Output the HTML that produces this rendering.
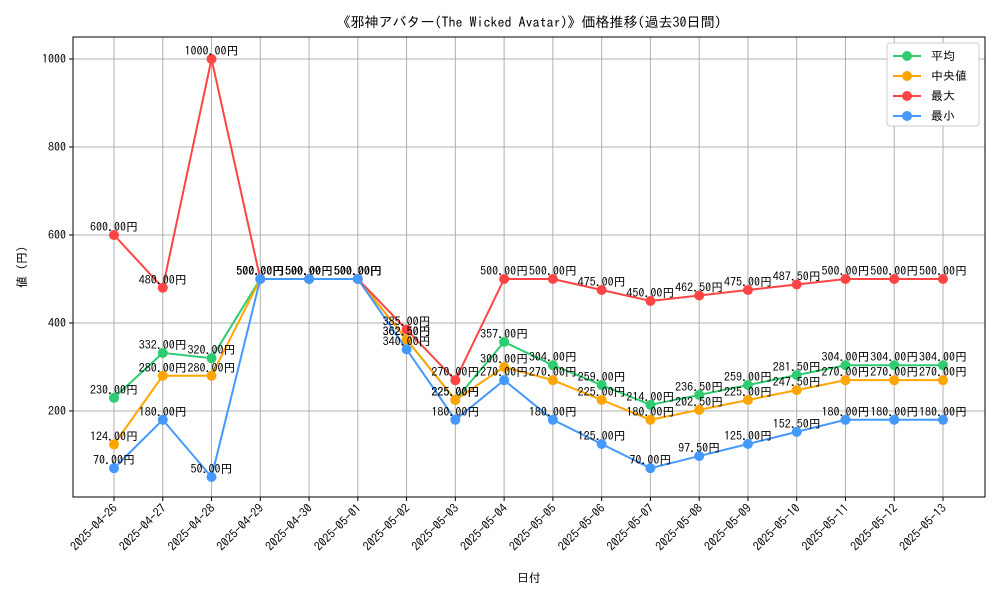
<!DOCTYPE html>
<html><head><meta charset="utf-8"><style>
body{margin:0;background:#fff}
svg text{font-family:"IPAGothic","Noto Sans CJK JP",monospace;fill:#000}
</style></head><body>
<svg id="chart" width="1000" height="600">
<text x="529" y="27" font-size="14" text-anchor="middle">《邪神アバター(The Wicked Avatar)》価格推移(過去30日間)</text>
<g id="grid"></g><g id="axes"></g><g id="series"></g>
<text x="529" y="582" font-size="12" text-anchor="middle">日付</text>
<text x="26" y="267" font-size="12" text-anchor="middle" transform="rotate(-90 26 267)">値 (円)</text>
<g id="legend"></g>
</svg>
<script>
const dates=["2025-04-26","2025-04-27","2025-04-28","2025-04-29","2025-04-30","2025-05-01","2025-05-02","2025-05-03","2025-05-04","2025-05-05","2025-05-06","2025-05-07","2025-05-08","2025-05-09","2025-05-10","2025-05-11","2025-05-12","2025-05-13"];
const meanVals=[230,332,320,500,500,500,362.5,225,357,304,259,214,236.5,259,281.5,304,304,304];
const medianVals=[124,280,280,500,500,500,362.5,225,300,270,225,180,202.5,225,247.5,270,270,270];
const maxVals=[600,480,1000,500,500,500,385,270,500,500,475,450,462.5,475,487.5,500,500,500];
const minVals=[70,180,50,500,500,500,340,180,270,180,125,70,97.5,125,152.5,180,180,180];
const yTicks=[200,400,600,800,1000];
const seriesNames=["平均","中央値","最大","最小"];
const seriesColors=["#2ecc71","#ffa500","#ff4444","#4499ff"];
const L=73,R=985,T=37,B=497;
const yMin=4.5,yMax=1050;
const x=i=>114+i*(943-114)/(dates.length-1);
const y=v=>B-(v-yMin)/(yMax-yMin)*(B-T);
const NS="http://www.w3.org/2000/svg";
function mk(p,t,a){const e=document.createElementNS(NS,t);for(const k in a)e.setAttribute(k,a[k]);p.appendChild(e);return e;}
const grid=document.getElementById('grid'),axes=document.getElementById('axes');
dates.forEach((d,i)=>{
 const g=mk(grid,'line',{x1:x(i),x2:x(i),y1:T,y2:B,stroke:'#b0b0b0','stroke-width':1});
 
 
 mk(axes,'line',{x1:x(i),x2:x(i),y1:B,y2:B+4,stroke:'#000'});
 const t=mk(axes,'text',{x:x(i)+4,y:B+12,'font-size':12,'text-anchor':'end',transform:`rotate(-45 ${x(i)+4} ${B+12})`});
 t.textContent=d;
 
 
});
yTicks.forEach(v=>{
 const g=mk(grid,'line',{x1:L,x2:R,y1:y(v),y2:y(v),stroke:'#b0b0b0','stroke-width':1});
 
 
 mk(axes,'line',{x1:L-4,x2:L,y1:y(v),y2:y(v),stroke:'#000'});
 const t=mk(axes,'text',{x:L-7,y:y(v)+4,'font-size':12,'text-anchor':'end'});
 t.textContent=v;
 
 
});
const fr=mk(axes,'rect',{x:L,y:T,width:R-L,height:B-T,fill:'none',stroke:'#000'});


const ser=document.getElementById('series');
[meanVals,medianVals,maxVals,minVals].forEach((vals,s)=>{
 const c=seriesColors[s];
 const pl=mk(ser,'polyline',{points:vals.map((v,i)=>x(i)+','+y(v)).join(' '),fill:'none',stroke:c,'stroke-width':2});
 
 
 vals.forEach((v,i)=>{
  const p=mk(ser,'circle',{cx:x(i),cy:y(v),r:5,fill:c});
  
  
 });
});
[meanVals,medianVals,maxVals,minVals].forEach(vals=>{
 vals.forEach((v,i)=>{
  const t=mk(ser,'text',{x:x(i),y:y(v)-4,'font-size':12,'text-anchor':'middle'});
  t.textContent=v.toFixed(2)+'円';
  
  
 });
});
const lg=document.getElementById('legend');
const box=mk(lg,'rect',{x:887,y:43,width:92,height:83,fill:'#fff',stroke:'#ccc',rx:3});


seriesNames.forEach((n,i)=>{
 const yy=56+i*20;
 mk(lg,'line',{x1:893,x2:921,y1:yy,y2:yy,stroke:seriesColors[i],'stroke-width':2});
 mk(lg,'circle',{cx:907,cy:yy,r:5,fill:seriesColors[i]});
 const t=mk(lg,'text',{x:931,y:yy+4,'font-size':12});
 t.textContent=n;
 
 
});
</script>
</body></html>
